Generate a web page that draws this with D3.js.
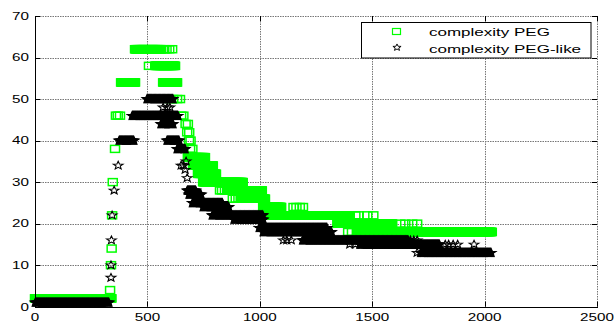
<!DOCTYPE html>
<html><head><meta charset="utf-8">
<script src="https://cdn.jsdelivr.net/npm/d3@7"></script>
<style>body{margin:0;background:#fff} svg{display:block}</style>
</head><body>
<svg id="c" width="615" height="323"></svg>
<script>
const xTicks = [0, 500, 1000, 1500, 2000, 2500];
const yTicks = [0, 10, 20, 30, 40, 50, 60, 70];
const seriesNames = ["complexity PEG", "complexity PEG-like"];

// dense runs of markers: [xStart, xEnd, y]
const pegRuns = [
  [0, 340, 2], [383, 445, 54], [445, 561, 62], [535, 623, 58], [570, 632, 54],
  [680, 757, 36], [703, 792, 34], [725, 805, 32], [748, 925, 30], [855, 1010, 28],
  [915, 1023, 26], [1015, 1095, 24], [1015, 1400, 22], [1345, 1590, 20], [1432, 2033, 18]
];
// isolated markers: [x, y]
const pegPoints = [
  [334, 4], [338, 10], [341, 14], [343, 22], [346, 30], [356, 38],
  [360, 46], [368, 46], [378, 46],
  [575, 62], [585, 62], [597, 62], [610, 62], [507, 58],
  [600, 50], [615, 50], [632, 50], [645, 50],
  [650, 46], [660, 46], [670, 44], [680, 44], [677, 42], [686, 42],
  [685, 40], [692, 40], [690, 38], [700, 38],
  [823, 28], [832, 28], [845, 28], [880, 26], [893, 26], [905, 26],
  [1150, 24], [1163, 24], [1178, 24], [1192, 24],
  [1425, 22], [1440, 22], [1478, 22], [1505, 22],
  [1625, 20], [1647, 20], [1678, 20], [1700, 20],
  [1393, 18], [1410, 18]
];
const likeRuns = [
  [1, 330, 1], [374, 440, 40], [432, 636, 46], [498, 614, 50], [560, 614, 44],
  [587, 641, 40], [632, 668, 38], [677, 715, 28], [685, 740, 27], [700, 835, 25],
  [748, 863, 24], [788, 1015, 22], [885, 1015, 21], [997, 1300, 19], [1015, 1320, 18],
  [1190, 1660, 16], [1445, 1800, 15], [1715, 2030, 13]
];
const likePoints = [
  [338, 7], [338, 10], [340, 16], [343, 22], [352, 28], [370, 34],
  [570, 48], [588, 48], [600, 48],
  [650, 34], [660, 34], [672, 35], [668, 33], [677, 31],
  [1105, 16], [1120, 16], [1140, 16], [1670, 16], [1685, 16], [1700, 16],
  [1400, 15], [1425, 15], [1825, 15], [1840, 15], [1860, 15], [1880, 15], [1953, 15],
  [1700, 13]
];

function expand(runs, points) {
  const out = [];
  runs.forEach(([a, b, v]) => { for (let x = a; x <= b; x += 2) out.push([x, v]); });
  points.forEach(p => out.push(p));
  return out;
}
const pegData = expand(pegRuns, pegPoints);
const likeData = expand(likeRuns, likePoints);

const svg = d3.select("#c");
const L = 35, R = 597, T = 16, B = 306.7;
const x = d3.scaleLinear().domain([0, 2500]).range([L, R]);
const y = d3.scaleLinear().domain([0, 70]).range([B, T]);
const FONT = "'Liberation Sans', Arial, sans-serif";

// grid
const grid = svg.append("g").attr("stroke", "#777").attr("stroke-width", 1).attr("stroke-dasharray", "1.5,1");
grid.selectAll(".gx").data(xTicks.slice(1, -1)).enter().append("line")
  .attr("x1", d => Math.round(x(d)) + 0.5).attr("x2", d => Math.round(x(d)) + 0.5).attr("y1", T).attr("y2", B);
grid.selectAll(".gy").data(yTicks.slice(1)).enter().append("line")
  .attr("y1", d => Math.round(y(d)) + 0.5).attr("y2", d => Math.round(y(d)) + 0.5).attr("x1", L).attr("x2", R);
// right border (grey)
grid.append("line").attr("x1", R + 0.5).attr("x2", R + 0.5).attr("y1", T).attr("y2", B);

// markers
const sq = svg.append("g").attr("fill", "none").attr("stroke", "#00ff00").attr("stroke-width", 1.5);
sq.selectAll("rect").data(pegData).enter().append("rect")
  .attr("x", d => x(d[0]) - 4.5).attr("y", d => y(d[1]) - 3.5).attr("width", 9).attr("height", 7);

const starPath = (() => {
  const pts = [];
  for (let i = 0; i < 10; i++) {
    const r = i % 2 ? 1.9 : 4.4;
    const a = -Math.PI / 2 + i * Math.PI / 5;
    pts.push([Math.cos(a) * r * 1.15, Math.sin(a) * r * 0.95]);
  }
  return "M" + pts.map(p => p[0].toFixed(2) + "," + p[1].toFixed(2)).join("L") + "Z";
})();
const st = svg.append("g").attr("fill", "none").attr("stroke", "#000").attr("stroke-width", 1.1);
st.selectAll("path").data(likeData).enter().append("path")
  .attr("d", starPath).attr("transform", d => `translate(${x(d[0])},${y(d[1])})`);

// axes lines
const ax = svg.append("g").attr("stroke", "#000").attr("stroke-width", 1);
ax.append("line").attr("x1", L + 0.5).attr("x2", L + 0.5).attr("y1", T).attr("y2", B + 0.5);
ax.append("line").attr("x1", L).attr("x2", R + 1).attr("y1", Math.round(B) + 0.5).attr("y2", Math.round(B) + 0.5);
ax.selectAll(".tb").data(xTicks).enter().append("line")
  .attr("x1", d => Math.round(x(d)) + 0.5).attr("x2", d => Math.round(x(d)) + 0.5).attr("y1", B).attr("y2", B - 5);
ax.selectAll(".tt").data(xTicks).enter().append("line")
  .attr("x1", d => Math.round(x(d)) + 0.5).attr("x2", d => Math.round(x(d)) + 0.5).attr("y1", T).attr("y2", T + 5);
ax.selectAll(".tl").data(yTicks).enter().append("line")
  .attr("y1", d => Math.round(y(d)) + 0.5).attr("y2", d => Math.round(y(d)) + 0.5).attr("x1", L).attr("x2", L + 5);
ax.selectAll(".tr").data(yTicks).enter().append("line")
  .attr("y1", d => Math.round(y(d)) + 0.5).attr("y2", d => Math.round(y(d)) + 0.5).attr("x1", R).attr("x2", R - 5);

// tick labels
const SX = 1.45;
svg.append("g").selectAll("text").data(xTicks).enter().append("text")
  .attr("transform", d => `translate(${x(d)},320.5) scale(${SX},1)`)
  .attr("text-anchor", "middle").attr("font-family", FONT).attr("font-size", 10.5).attr("fill", "#000")
  .text(d => d);
svg.append("g").selectAll("text").data(yTicks).enter().append("text")
  .attr("transform", d => `translate(29,${y(d) + 3.8}) scale(${SX},1)`)
  .attr("text-anchor", "end").attr("font-family", FONT).attr("font-size", 10.5).attr("fill", "#000")
  .text(d => d);

// legend
const lg = svg.append("g");
lg.append("rect").attr("x", 361.5).attr("y", 22.5).attr("width", 229.5).attr("height", 35.5)
  .attr("fill", "#fff").attr("stroke", "#000").attr("stroke-width", 1);
lg.append("rect").attr("x", 392.5).attr("y", 28.5).attr("width", 8).attr("height", 6)
  .attr("fill", "none").attr("stroke", "#00ff00").attr("stroke-width", 1.2);
lg.append("path").attr("d", starPath).attr("transform", "translate(397,47.5) scale(0.85)")
  .attr("fill", "none").attr("stroke", "#000").attr("stroke-width", 1.1);
lg.selectAll("text").data(seriesNames).enter().append("text")
  .attr("transform", (d, i) => `translate(429,${36 + i * 17.3}) scale(1.62,1)`)
  .attr("font-family", FONT).attr("font-size", 10.5).attr("fill", "#000")
  .text(d => d);
</script>
</body></html>
